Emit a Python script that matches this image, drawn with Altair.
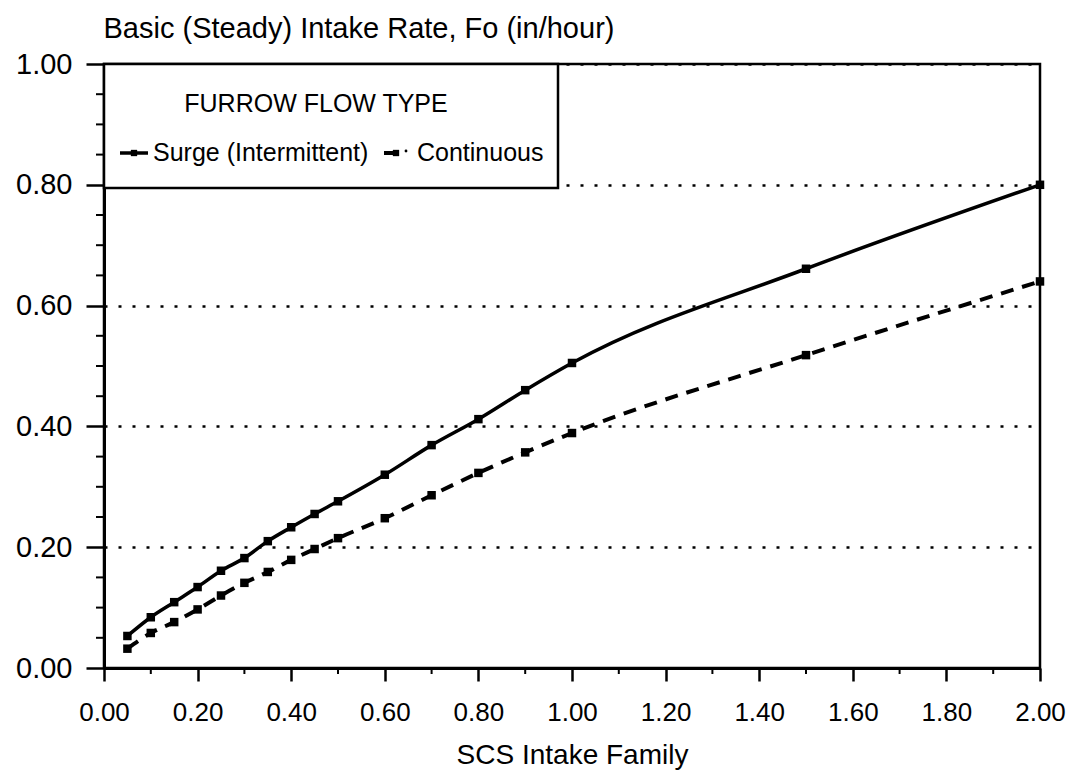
import altair as alt
import pandas as pd

# ---- data ----
families = [0.05, 0.10, 0.15, 0.20, 0.25, 0.30, 0.35, 0.40, 0.45, 0.50,
            0.60, 0.70, 0.80, 0.90, 1.00, 1.50, 2.00]
surge = [0.053, 0.084, 0.109, 0.134, 0.161, 0.182, 0.210, 0.233, 0.255, 0.276,
         0.320, 0.369, 0.412, 0.460, 0.505, 0.661, 0.800]
continuous = [0.032, 0.058, 0.076, 0.097, 0.120, 0.141, 0.159, 0.179, 0.197, 0.215,
              0.248, 0.286, 0.323, 0.357, 0.389, 0.518, 0.640]
series_names = ["Surge (Intermittent)", "Continuous"]
legend_title = ["FURROW FLOW TYPE"]
y_title = "Basic (Steady) Intake Rate, Fo (in/hour)"
x_title = "SCS Intake Family"
x_major = [0.0, 0.2, 0.4, 0.6, 0.8, 1.0, 1.2, 1.4, 1.6, 1.8, 2.0]
x_minor = [0.1, 0.3, 0.5, 0.7, 0.9, 1.1, 1.3, 1.5, 1.7, 1.9]
y_major = [0.0, 0.2, 0.4, 0.6, 0.8, 1.0]
y_minor = [0.05, 0.10, 0.15, 0.25, 0.30, 0.35, 0.45, 0.50, 0.55,
           0.65, 0.70, 0.75, 0.85, 0.90, 0.95]

FONT = "Liberation Sans"
W, H = 936, 604

df = pd.DataFrame({
    "family": families * 2,
    "rate": surge + continuous,
    "type": [series_names[0]] * len(families) + [series_names[1]] * len(families),
})

x_scale = alt.Scale(domain=[0, 2], nice=False, zero=False)
y_scale = alt.Scale(domain=[0, 1], nice=False, zero=False)

x_axis = alt.Axis(
    values=x_major, format=".2f", labelFlush=False, labelFontSize=26,
    labelFont=FONT, labelColor="black", labelPadding=18,
    tickSize=13, tickWidth=2.5, tickColor="black",
    domainColor="black", domainWidth=3, grid=False,
    title=x_title, titleFont=FONT, titleFontSize=28, titleFontWeight="normal",
    titleColor="black", titleBaseline="alphabetic", titleY=95, titleX=W / 2,
)
y_axis = alt.Axis(
    values=y_major, format=".2f", labelFontSize=29, labelFont=FONT,
    labelColor="black", labelPadding=14,
    tickSize=18, tickWidth=2.5, tickColor="black",
    domainColor="black", domainWidth=3,
    grid=True, gridColor="black", gridDash=[3, 11], gridWidth=2.5, gridOpacity=1,
    title=y_title, titleFont=FONT, titleFontSize=29, titleFontWeight="normal",
    titleColor="black", titleAngle=0, titleAlign="left",
    titleBaseline="alphabetic", titleX=-1, titleY=-27,
)

X = alt.X("family:Q", scale=x_scale, axis=x_axis)
Y = alt.Y("rate:Q", scale=y_scale, axis=y_axis)

base = alt.Chart(df)

surge_line = base.transform_filter(alt.datum.type == series_names[0]).mark_line(
    color="black", strokeWidth=3.5, interpolate="monotone"
).encode(x=X, y=Y)

cont_line = base.transform_filter(alt.datum.type == series_names[1]).mark_line(
    color="black", strokeWidth=4, strokeDash=[13, 9], interpolate="monotone"
).encode(x=X, y=Y)

pts = base.mark_point(shape="square", filled=True, size=72, color="black",
                      opacity=1).encode(x=X, y=Y)

# minor ticks
y_minor_ticks = alt.Chart(pd.DataFrame({"rate": y_minor})).mark_rule(
    color="black", strokeWidth=2
).encode(y=Y, x=alt.value(-8), x2=alt.value(0))
x_minor_ticks = alt.Chart(pd.DataFrame({"family": x_minor})).mark_rule(
    color="black", strokeWidth=2
).encode(x=X, y=alt.value(H), y2=alt.value(H + 6))

# legend box (drawn in the upper-left of the plot, as in the original)
one = pd.DataFrame({"a": [0]})
leg_box = alt.Chart(one).mark_rect(
    fill="white", stroke="black", strokeWidth=2.5
).encode(x=alt.value(0), x2=alt.value(454), y=alt.value(0), y2=alt.value(124))

leg_title = alt.Chart(pd.DataFrame({"t": legend_title})).mark_text(
    font=FONT, fontSize=25, color="black", align="center", baseline="middle"
).encode(text="t:N", x=alt.value(212), y=alt.value(40))

leg_lab1 = alt.Chart(pd.DataFrame({"t": [series_names[0]]})).mark_text(
    font=FONT, fontSize=25, color="black", align="left", baseline="middle"
).encode(text="t:N", x=alt.value(49), y=alt.value(89))
leg_lab2 = alt.Chart(pd.DataFrame({"t": [series_names[1]]})).mark_text(
    font=FONT, fontSize=25, color="black", align="left", baseline="middle"
).encode(text="t:N", x=alt.value(313), y=alt.value(89))

leg_sym1 = alt.Chart(one).mark_rule(color="black", strokeWidth=3.5).encode(
    x=alt.value(16), x2=alt.value(44), y=alt.value(89))
leg_pt1 = alt.Chart(one).mark_point(shape="square", filled=True, size=40,
                                    color="black", opacity=1).encode(
    x=alt.value(30), y=alt.value(89))
leg_sym2 = alt.Chart(one).mark_rule(color="black", strokeWidth=4).encode(
    x=alt.value(280), x2=alt.value(292), y=alt.value(89))
leg_pt2 = alt.Chart(one).mark_point(shape="square", filled=True, size=40,
                                    color="black", opacity=1).encode(
    x=alt.value(292), y=alt.value(89))
leg_dot2 = alt.Chart(one).mark_point(shape="circle", filled=True, size=8,
                                     color="black", opacity=1).encode(
    x=alt.value(302), y=alt.value(87))

chart = alt.layer(
    surge_line, cont_line, pts, y_minor_ticks, x_minor_ticks,
    leg_box, leg_title, leg_lab1, leg_lab2,
    leg_sym1, leg_pt1, leg_sym2, leg_pt2, leg_dot2,
).properties(
    width=W, height=H,
    autosize=alt.AutoSizeParams(type="none"),
    padding={"left": 96, "top": 56, "right": 26, "bottom": 104},
    background="white",
).configure(
    font=FONT
).configure_view(
    stroke="black", strokeWidth=2.5
)

chart.save("out.html", embed_options={"renderer": "svg", "actions": False})
